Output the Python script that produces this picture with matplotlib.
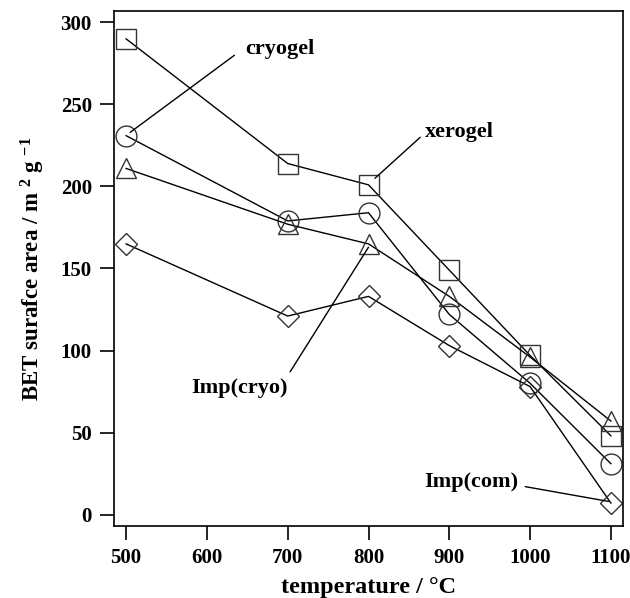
import numpy as np
import matplotlib.pyplot as plt

plt.rcParams['font.family'] = ['Liberation Serif', 'DejaVu Serif']
plt.rcParams['font.weight'] = 'bold'
plt.rcParams['mathtext.fontset'] = 'custom'
plt.rcParams['mathtext.rm'] = 'Liberation Serif:bold'
plt.rcParams['mathtext.bf'] = 'Liberation Serif:bold'
plt.rcParams['mathtext.default'] = 'rm'

# data
temps = [500, 700, 800, 900, 1000, 1100]
xerogel = [290, 214, 201, 149, 97, 48]
cryogel = [231, 179, 184, 122, 80, 31]
imp_cryo = [211, 177, 165, 133, 96, 57]
imp_com = [165, 121, 133, 103, 78, 7]

fig = plt.figure(figsize=(6.3, 5.98), dpi=100)
ax = fig.add_axes([114/630, 1 - 526/598, (623-114)/630, (526-11)/598])

style = dict(color='black', lw=1.0, mfc='none', mec='#333333', mew=1.0)
ax.plot(temps, xerogel, marker='s', ms=15, **style)
ax.plot(temps, cryogel, marker='o', ms=15, **style)
ax.plot(temps, imp_cryo, marker='^', ms=15, **style)
ax.plot(temps, imp_com, marker='D', ms=11, **style)

ax.set_xlim(485, 1115)
ax.set_ylim(-7, 307)
ax.set_xticks([500, 600, 700, 800, 900, 1000, 1100])
ax.set_yticks([0, 50, 100, 150, 200, 250, 300])
ax.tick_params(direction='out', length=10, width=1.2, labelsize=15, pad=6)
for lab in ax.get_xticklabels() + ax.get_yticklabels():
    lab.set_fontweight('bold')
for s in ax.spines.values():
    s.set_linewidth(1.2)

ax.set_xlabel('temperature / °C', fontsize=17.5, fontweight='bold', labelpad=6)
ax.set_ylabel('BET surafce area / m $^{2}$ g $^{-1}$', fontsize=16.5,
              fontweight='bold', labelpad=10)

# labels with leader lines
arr = dict(arrowstyle='-', color='black', lw=1.0, shrinkA=0, shrinkB=0)
ax.annotate('', xy=(505, 233), xytext=(634, 280), arrowprops=arr)
ax.text(648, 284, 'cryogel', fontsize=16, fontweight='bold', ha='left', va='center')
ax.annotate('', xy=(808, 205), xytext=(864, 230), arrowprops=arr)
ax.text(870, 233, 'xerogel', fontsize=16, fontweight='bold', ha='left', va='center')
ax.annotate('', xy=(800, 163), xytext=(703, 87), arrowprops=arr)
ax.text(640, 77, 'Imp(cryo)', fontsize=16, fontweight='bold', ha='center', va='center')
ax.annotate('', xy=(1097, 8), xytext=(994, 17), arrowprops=arr)
ax.text(986, 20, 'Imp(com)', fontsize=16, fontweight='bold', ha='right', va='center')

fig.savefig('out.png', dpi=100)
